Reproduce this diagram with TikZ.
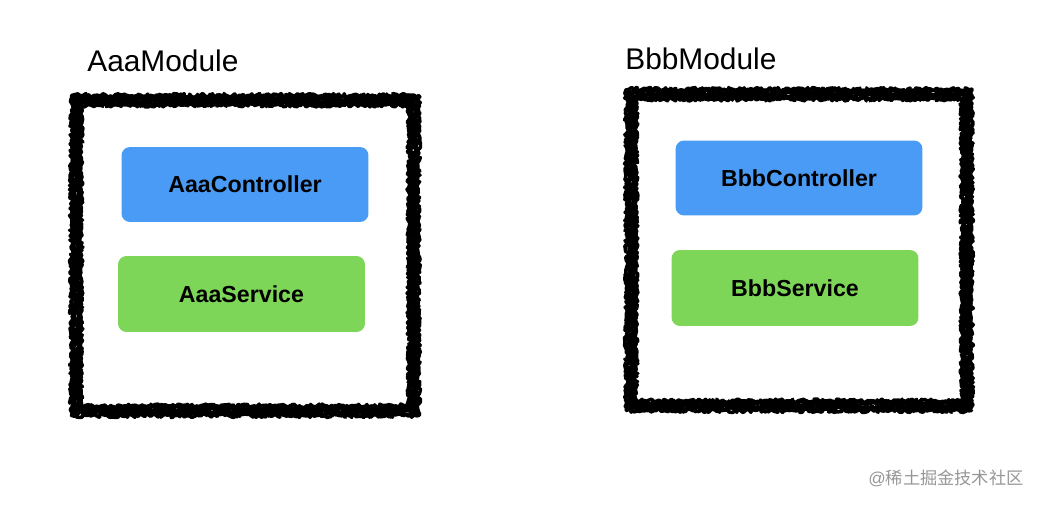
\documentclass[tikz,border=0pt]{standalone}
\usepackage{fontspec}
\setmainfont{Liberation Sans}
\newfontfamily\cjkfont{Noto Sans CJK SC}
\usetikzlibrary{decorations.pathmorphing}

\definecolor{ctrlblue}{RGB}{74,155,245}
\definecolor{svcgreen}{RGB}{126,214,88}
\definecolor{markgray}{RGB}{150,150,150}

\tikzset{
  modstroke/.style={draw=black, line width=0.07cm, line join=round, line cap=round,
    decorate, decoration={random steps, segment length=0.03cm, amplitude=0.04cm}},
  modlabel/.style={anchor=base west, inner sep=0pt, font=\fontsize{17}{20}\selectfont},
  ctrlbox/.style={fill=ctrlblue, rounded corners=0.17cm, minimum width=4.94cm,
    minimum height=1.5cm, font=\bfseries\fontsize{13.2}{16}\selectfont},
  svcbox/.style={fill=svcgreen, rounded corners=0.17cm, minimum width=4.94cm,
    minimum height=1.52cm, font=\bfseries\fontsize{13.2}{16}\selectfont}
}

\begin{document}
\begin{tikzpicture}[x=0.02cm, y=-0.02cm]
  \pgfmathsetseed{11}
  \useasboundingbox (0, 0) rectangle (1044, 506);

  % module AAA
  \node[modlabel] (aaaLabel) at (87, 72) {AaaModule};
  \foreach \d in {-4.5,-2.5,-0.5,1.5,3.5,5}
    \path[modstroke] (76+\d, 100+\d) rectangle (414-\d, 411-\d);
  \node[ctrlbox] (aaaCtrl) at (245, 184.5) {AaaController};
  \node[svcbox] (aaaSvc) at (241.5, 294) {AaaService};

  % module BBB
  \node[modlabel] (bbbLabel) at (625, 70) {BbbModule};
  \foreach \d in {-4.5,-2.5,-0.5,1.5,3.5,5}
    \path[modstroke] (631+\d, 94+\d) rectangle (967-\d, 406-\d);
  \node[ctrlbox] (bbbCtrl) at (799, 178) {BbbController};
  \node[svcbox] (bbbSvc) at (795, 288) {BbbService};

  % watermark
  \node[text=markgray, font=\fontsize{9.8}{12}\selectfont] (mark) at (946, 478)
    {@{\cjkfont 稀土掘金技术社区}};
\end{tikzpicture}
\end{document}
